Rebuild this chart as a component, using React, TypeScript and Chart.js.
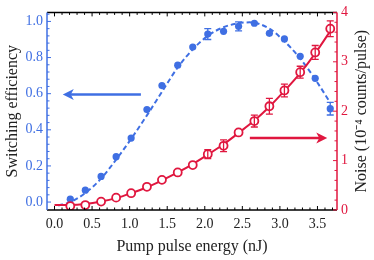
import React, { useEffect, useRef } from 'react';
import { Chart, registerables } from 'chart.js';
Chart.register(...registerables);

// ---- data ----
const energy = [0.21, 0.41, 0.62, 0.82, 1.02, 1.23, 1.43, 1.64, 1.84, 2.04, 2.25, 2.45, 2.66, 2.86, 3.06, 3.27, 3.47, 3.67];
const efficiency = [0.016, 0.066, 0.142, 0.251, 0.354, 0.512, 0.645, 0.758, 0.858, 0.930, 0.945, 0.973, 0.990, 0.934, 0.903, 0.807, 0.685, 0.517];
const efficiencyErr = [0.008, 0.008, 0.008, 0.008, 0.008, 0.008, 0.008, 0.008, 0.008, 0.03, 0.008, 0.025, 0.008, 0.008, 0.008, 0.008, 0.008, 0.035];
const noise = [0.08, 0.10, 0.17, 0.25, 0.34, 0.47, 0.61, 0.76, 0.91, 1.13, 1.30, 1.57, 1.80, 2.10, 2.42, 2.79, 3.19, 3.67];
const noiseErr = [0.02, 0.02, 0.02, 0.02, 0.03, 0.03, 0.03, 0.04, 0.06, 0.09, 0.12, 0.04, 0.12, 0.16, 0.13, 0.12, 0.14, 0.16];

const effFitEnergy = [0.05, 0.21, 0.41, 0.62, 0.82, 1.02, 1.23, 1.43, 1.64, 1.84, 2.04, 2.25, 2.45, 2.6, 2.86, 3.06, 3.27, 3.47, 3.67];
const efficiencyFit = [-0.02, 0.0, 0.05, 0.13, 0.235, 0.35, 0.48, 0.61, 0.745, 0.845, 0.92, 0.968, 0.99, 0.995, 0.96, 0.89, 0.795, 0.68, 0.55];
const noiseFitEnergy = [0.0, 0.21, 0.41, 0.62, 0.82, 1.02, 1.23, 1.43, 1.64, 1.84, 2.04, 2.25, 2.45, 2.66, 2.86, 3.06, 3.27, 3.47, 3.67];
const noiseFit = [0.10, 0.10, 0.12, 0.17, 0.24, 0.34, 0.46, 0.60, 0.76, 0.93, 1.12, 1.33, 1.56, 1.81, 2.09, 2.41, 2.77, 3.17, 3.62];

const xTicks = [0, 0.5, 1.0, 1.5, 2.0, 2.5, 3.0, 3.5];
const effTicks = [0, 0.2, 0.4, 0.6, 0.8, 1.0];
const noiseTicks = [0, 1, 2, 3, 4];

const BLUE = '#3F6FE3';
const RED = '#E0173F';
const FONT = "'Liberation Serif', 'Times New Roman', serif";

const decor = {
  id: 'decor',
  afterDatasetsDraw(chart: any) {
    const { ctx, scales } = chart;
    const x = scales.x, y = scales.y, y2 = scales.y2;
    ctx.save();
    ctx.lineWidth = 1.3;
    const bars = (xs: number[], ys: number[], es: number[], sc: any, color: string) => {
      ctx.strokeStyle = color;
      xs.forEach((xv, i) => {
        const px = x.getPixelForValue(xv);
        const p1 = sc.getPixelForValue(ys[i] - es[i]);
        const p2 = sc.getPixelForValue(ys[i] + es[i]);
        if (Math.abs(p1 - p2) < 7) return;
        ctx.beginPath();
        ctx.moveTo(px, p1); ctx.lineTo(px, p2);
        ctx.moveTo(px - 3.5, p1); ctx.lineTo(px + 3.5, p1);
        ctx.moveTo(px - 3.5, p2); ctx.lineTo(px + 3.5, p2);
        ctx.stroke();
      });
    };
    bars(energy, efficiency, efficiencyErr, y, BLUE);
    bars(energy, noise, noiseErr, y2, RED);
    ctx.restore();
  },
  afterDraw(chart: any) {
    const { ctx, chartArea: a, scales } = chart;
    const x = scales.x, y = scales.y, y2 = scales.y2;
    ctx.save();
    const line = (x1: number, y1: number, x2: number, y2_: number) => {
      ctx.beginPath(); ctx.moveTo(x1, y1); ctx.lineTo(x2, y2_); ctx.stroke();
    };
    // frame
    ctx.lineWidth = 1.5;
    ctx.strokeStyle = '#000';
    line(a.left, a.top, a.right, a.top);
    line(a.left, a.bottom, a.right, a.bottom);
    ctx.strokeStyle = BLUE;
    line(a.left, a.top, a.left, a.bottom);
    ctx.strokeStyle = RED;
    line(a.right, a.top, a.right, a.bottom);

    // x ticks (inward, top & bottom)
    ctx.lineWidth = 1;
    ctx.strokeStyle = '#000';
    for (let i = -1; i <= 38; i++) {
      const px = x.getPixelForValue(i / 10);
      if (px <= a.left + 1 || px >= a.right - 1) continue;
      const L = i % 5 === 0 ? 4 : 2.5;
      line(px, a.bottom, px, a.bottom - L);
      line(px, a.top, px, a.top + L);
    }
    // left ticks
    ctx.strokeStyle = BLUE;
    for (let i = -1; i <= 27; i++) {
      const py = y.getPixelForValue(i * 0.04);
      if (py >= a.bottom - 1 || py <= a.top + 1) continue;
      const L = i % 5 === 0 ? 4 : 2.5;
      line(a.left, py, a.left + L, py);
    }
    // right ticks
    ctx.strokeStyle = RED;
    for (let i = 0; i <= 20; i++) {
      const py = y2.getPixelForValue(i * 0.2);
      if (py > a.bottom || py < a.top) continue;
      const L = i % 5 === 0 ? 4 : 2.5;
      line(a.right, py, a.right - L, py);
    }

    // arrows
    const arrow = (x1: number, x2: number, py: number, color: string) => {
      ctx.strokeStyle = color; ctx.fillStyle = color; ctx.lineWidth = 2.5;
      const dir = Math.sign(x2 - x1);
      line(x1, py, x2 - dir * 6, py);
      ctx.beginPath();
      ctx.moveTo(x2, py);
      ctx.lineTo(x2 - dir * 11, py - 5.5);
      ctx.lineTo(x2 - dir * 8, py);
      ctx.lineTo(x2 - dir * 11, py + 5.5);
      ctx.closePath();
      ctx.fill();
    };
    arrow(x.getPixelForValue(1.15), x.getPixelForValue(0.11), y.getPixelForValue(0.596), BLUE);
    arrow(x.getPixelForValue(2.6), x.getPixelForValue(3.63), y2.getPixelForValue(1.46), RED);

    // right axis title, reading bottom to top
    ctx.save();
    ctx.translate(362, (a.top + a.bottom) / 2);
    ctx.rotate(-Math.PI / 2);
    ctx.fillStyle = '#222';
    ctx.font = `16px ${FONT}`;
    ctx.textAlign = 'center';
    ctx.textBaseline = 'middle';
    ctx.fillText('Noise (10\u207B\u2074 counts/pulse)', 0, 0);
    ctx.restore();
    ctx.restore();
  },
};

export default function App() {
  const ref = useRef<HTMLCanvasElement | null>(null);
  useEffect(() => {
    if (!ref.current) return;
    const pts = (xs: number[], ys: number[]) => xs.map((v, i) => ({ x: v, y: ys[i] }));
    const chart = new Chart(ref.current, {
      type: 'scatter',
      data: {
        datasets: [
          {
            label: 'Noise',
            data: pts(energy, noise),
            yAxisID: 'y2',
            showLine: false,
            pointRadius: 4,
            pointBorderWidth: 1.8,
            pointBackgroundColor: '#fff',
            pointBorderColor: RED,
            order: 1,
          },
          {
            label: 'Noise fit',
            data: pts(noiseFitEnergy, noiseFit),
            yAxisID: 'y2',
            showLine: true,
            borderColor: RED,
            borderWidth: 2,
            pointRadius: 0,
            cubicInterpolationMode: 'monotone',
            order: 2,
          },
          {
            label: 'Efficiency',
            data: pts(energy, efficiency),
            yAxisID: 'y',
            showLine: false,
            pointRadius: 3.6,
            pointBorderWidth: 0,
            pointBackgroundColor: BLUE,
            pointBorderColor: BLUE,
            order: 3,
          },
          {
            label: 'Efficiency fit',
            data: pts(effFitEnergy, efficiencyFit),
            yAxisID: 'y',
            showLine: true,
            borderColor: BLUE,
            borderWidth: 2,
            borderDash: [5, 3],
            pointRadius: 0,
            cubicInterpolationMode: 'monotone',
            order: 4,
          },
        ],
      } as any,
      options: {
        responsive: false,
        animation: false,
        layout: { padding: { top: 10, left: 0, right: 0, bottom: 0 } },
        plugins: { legend: { display: false }, tooltip: { enabled: false } },
        scales: {
          x: {
            type: 'linear',
            min: -0.1,
            max: 3.76,
            grid: { display: false, drawTicks: false },
            border: { display: false },
            afterBuildTicks: (s: any) => { s.ticks = xTicks.map((v) => ({ value: v })); },
            afterFit: (s: any) => { s.height = 50; },
            ticks: {
              color: '#222',
              padding: 6,
              font: { family: FONT, size: 14 },
              callback: (v: any) => Number(v).toFixed(1),
              maxRotation: 0,
            },
            title: {
              display: true,
              text: 'Pump pulse energy (nJ)',
              color: '#222',
              font: { family: FONT, size: 16 },
              padding: { top: 0, bottom: 4 },
            },
          },
          y: {
            type: 'linear',
            position: 'left',
            min: -0.044,
            max: 1.05,
            grid: { display: false, drawTicks: false },
            border: { display: false },
            afterBuildTicks: (s: any) => { s.ticks = effTicks.map((v) => ({ value: v })); },
            afterFit: (s: any) => { s.width = 47; },
            ticks: {
              color: BLUE,
              padding: 4,
              font: { family: FONT, size: 14 },
              callback: (v: any) => Number(v).toFixed(1),
            },
            title: {
              display: true,
              text: 'Switching efficiency',
              color: '#222',
              font: { family: FONT, size: 16 },
              padding: { top: 3, bottom: 0 },
            },
          },
          y2: {
            type: 'linear',
            position: 'right',
            min: 0,
            max: 4.0,
            grid: { display: false, drawTicks: false },
            border: { display: false },
            afterBuildTicks: (s: any) => { s.ticks = noiseTicks.map((v) => ({ value: v })); },
            afterFit: (s: any) => { s.width = 37; },
            ticks: {
              color: RED,
              padding: 4,
              font: { family: FONT, size: 14 },
              callback: (v: any) => String(v),
            },
          },
        },
      } as any,
      plugins: [decor],
    });
    return () => chart.destroy();
  }, []);
  return (
    <canvas
      ref={ref}
      width={374}
      height={260}
      style={{ position: 'absolute', left: 0, top: 0, width: 374, height: 260 }}
    />
  );
}
